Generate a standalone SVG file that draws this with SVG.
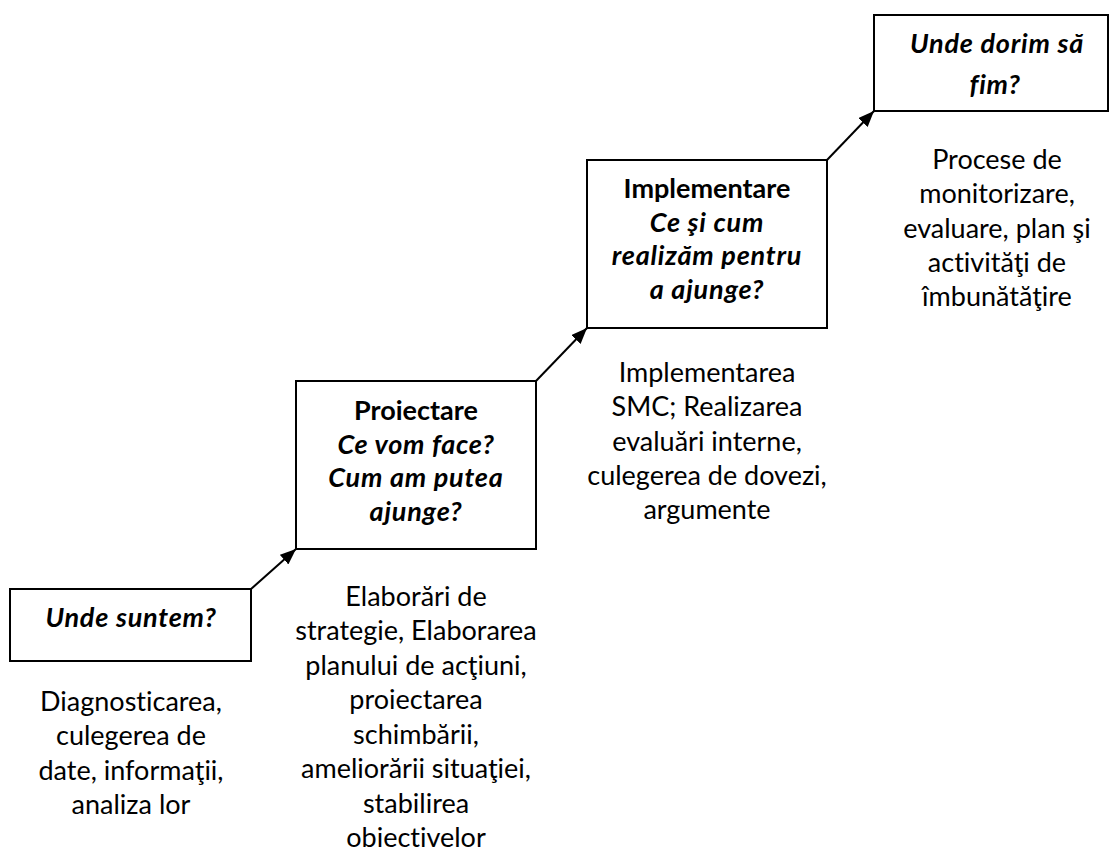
<svg xmlns="http://www.w3.org/2000/svg" width="1110" height="856" viewBox="0 0 1110 856">
<style>
text{font-family:Lato,"Noto Sans",sans-serif;font-size:27px;fill:#000;text-anchor:middle;font-variant-ligatures:none;font-feature-settings:"liga" 0,"dlig" 0}
.b{font-weight:bold}
.bi{font-weight:bold;font-style:italic;letter-spacing:0.8px}
rect{fill:#fff;stroke:#000;stroke-width:2}
.c line{stroke:#000;stroke-width:2}
</style>
<defs>
<marker id="ah" viewBox="0 0 16 13" refX="16" refY="6.5" markerWidth="16" markerHeight="13" markerUnits="userSpaceOnUse" orient="auto">
<path d="M0,0 L16,6.5 L0,13 z" fill="#000"/>
</marker>
</defs>
<rect x="0" y="0" width="1110" height="856" style="fill:#fff;stroke:none"/>
<g class="c" id="connectors">
<line x1="251" y1="589" x2="296" y2="549" marker-end="url(#ah)"/>
<line x1="536" y1="381" x2="587" y2="328" marker-end="url(#ah)"/>
<line x1="827" y1="160" x2="874" y2="111" marker-end="url(#ah)"/>
</g>
<g id="n1">
<rect x="10" y="589" width="241" height="72"/>
<text class="bi" x="131" y="627">Unde suntem?</text>
</g>
<g id="n2">
<rect x="296" y="381" width="240" height="168"/>
<text class="b" x="416" y="420">Proiectare</text>
<text class="bi" x="416" y="454">Ce vom face?</text>
<text class="bi" x="416" y="487">Cum am putea</text>
<text class="bi" x="416" y="521">ajunge?</text>
</g>
<g id="n3">
<rect x="587" y="160" width="240" height="168"/>
<text class="b" x="707" y="198">Implementare</text>
<text class="bi" x="707" y="232">Ce şi cum</text>
<text class="bi" x="707" y="265">realizăm pentru</text>
<text class="bi" x="707" y="299">a ajunge?</text>
</g>
<g id="n4">
<rect x="874" y="15" width="234" height="96"/>
<text class="bi" x="997" y="53">Unde dorim să</text>
<text class="bi" x="995" y="94">fim?</text>
</g>
<g id="d1">
<text x="131" y="711">Diagnosticarea,</text>
<text x="131" y="745">culegerea de</text>
<text x="131" y="780">date, informaţii,</text>
<text x="131" y="814">analiza lor</text>
</g>
<g id="d2">
<text x="416" y="606">Elaborări de</text>
<text x="416" y="640">strategie, Elaborarea</text>
<text x="416" y="675">planului de acţiuni,</text>
<text x="416" y="709">proiectarea</text>
<text x="416" y="744">schimbării,</text>
<text x="416" y="778">ameliorării situaţiei,</text>
<text x="416" y="813">stabilirea</text>
<text x="416" y="847">obiectivelor</text>
</g>
<g id="d3">
<text x="707" y="382">Implementarea</text>
<text x="707" y="416">SMC; Realizarea</text>
<text x="707" y="451">evaluări interne,</text>
<text x="707" y="485">culegerea de dovezi,</text>
<text x="707" y="519">argumente</text>
</g>
<g id="d4">
<text x="997" y="169">Procese de</text>
<text x="997" y="203">monitorizare,</text>
<text x="997" y="238">evaluare, plan şi</text>
<text x="997" y="272">activităţi de</text>
<text x="997" y="306">îmbunătăţire</text>
</g>
</svg>
